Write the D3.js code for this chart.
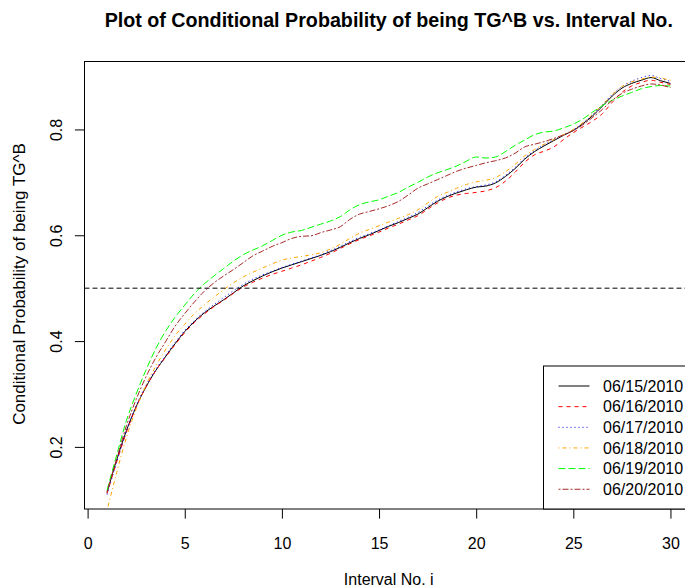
<!DOCTYPE html>
<html>
<head>
<meta charset="utf-8">
<script src="https://cdn.jsdelivr.net/npm/d3@7"></script>
<style>
  html, body { margin: 0; padding: 0; background: #fff; overflow: hidden; }
  svg { display: block; font-family: "Liberation Sans", Arial, sans-serif; }
</style>
</head>
<body>
<svg id="chart" width="685" height="588"></svg>
<script>
// Interval numbers (x) shared by every day's curve
const intervals = [1,1.5,2,2.5,3,3.5,4,4.5,5,5.5,6,6.5,7,7.5,8,8.5,9,9.5,10,10.5,
  11,11.5,12,12.5,13,13.5,14,14.5,15,15.5,16,16.5,17,17.5,18,18.5,19,19.5,20,20.5,
  21,21.5,22,22.5,23,23.5,24,24.5,25,25.5,26,26.5,27,27.5,28,28.5,29,29.5,30];

// Conditional probability of being TG^B, one array per trading day
const day0615 = [0.114,0.176,0.231,0.276,0.313,0.344,0.370,0.395,0.418,0.437,
  0.453,0.466,0.478,0.491,0.504,0.514,0.523,0.531,0.538,0.544,
  0.550,0.556,0.562,0.569,0.577,0.586,0.594,0.601,0.609,0.617,
  0.624,0.632,0.640,0.652,0.664,0.673,0.680,0.686,0.691,0.693,
  0.699,0.711,0.726,0.744,0.758,0.769,0.779,0.789,0.798,0.811,
  0.826,0.844,0.863,0.878,0.887,0.893,0.898,0.892,0.887];
const day0616 = [0.112,0.172,0.228,0.275,0.313,0.344,0.369,0.393,0.416,0.435,
  0.451,0.465,0.477,0.490,0.502,0.511,0.519,0.526,0.532,0.538,
  0.544,0.551,0.558,0.566,0.575,0.584,0.592,0.599,0.606,0.614,
  0.621,0.629,0.637,0.649,0.661,0.670,0.676,0.679,0.681,0.684,
  0.690,0.702,0.719,0.738,0.752,0.759,0.767,0.781,0.794,0.805,
  0.816,0.830,0.851,0.870,0.882,0.889,0.893,0.889,0.885];
const day0617 = [0.110,0.172,0.230,0.278,0.316,0.346,0.372,0.397,0.420,0.439,
  0.455,0.469,0.482,0.495,0.507,0.517,0.525,0.532,0.539,0.545,
  0.551,0.557,0.563,0.571,0.579,0.588,0.596,0.603,0.610,0.618,
  0.626,0.634,0.643,0.655,0.666,0.675,0.682,0.688,0.692,0.695,
  0.701,0.713,0.728,0.746,0.760,0.771,0.781,0.790,0.799,0.812,
  0.828,0.847,0.866,0.881,0.891,0.898,0.902,0.896,0.891];
const day0618 = [0.080,0.152,0.218,0.272,0.316,0.352,0.383,0.410,0.432,0.452,
  0.468,0.483,0.497,0.510,0.521,0.530,0.538,0.546,0.553,0.557,
  0.560,0.563,0.567,0.574,0.583,0.594,0.604,0.611,0.618,0.625,
  0.632,0.639,0.648,0.661,0.673,0.681,0.689,0.696,0.701,0.704,
  0.709,0.720,0.734,0.750,0.762,0.772,0.781,0.790,0.800,0.813,
  0.829,0.847,0.866,0.881,0.890,0.895,0.899,0.897,0.893];
const day0619 = [0.118,0.185,0.250,0.300,0.345,0.385,0.418,0.445,0.468,0.490,
  0.508,0.523,0.537,0.551,0.563,0.572,0.580,0.590,0.600,0.606,
  0.609,0.615,0.621,0.627,0.635,0.648,0.658,0.663,0.667,0.674,
  0.681,0.691,0.700,0.710,0.718,0.724,0.731,0.740,0.748,0.746,
  0.748,0.758,0.770,0.780,0.790,0.795,0.797,0.803,0.810,0.820,
  0.833,0.845,0.855,0.863,0.870,0.877,0.881,0.883,0.882];
const day0620 = [0.115,0.178,0.240,0.290,0.332,0.368,0.398,0.428,0.452,0.474,
  0.494,0.510,0.523,0.535,0.548,0.561,0.570,0.579,0.586,0.594,
  0.598,0.599,0.605,0.610,0.616,0.630,0.640,0.645,0.650,0.656,
  0.664,0.676,0.689,0.697,0.705,0.713,0.721,0.727,0.732,0.737,
  0.741,0.746,0.755,0.767,0.772,0.777,0.783,0.790,0.798,0.809,
  0.823,0.838,0.855,0.868,0.876,0.882,0.886,0.884,0.879];

const dayLabels = ["06/15/2010","06/16/2010","06/17/2010","06/18/2010","06/19/2010","06/20/2010"];
const dayValues = [day0615, day0616, day0617, day0618, day0619, day0620];
const dayColors = ["#000000","#ff0000","#0000ff","#ffa500","#00ff00","#a52a2a"];
const dayDashes = [null, "4,4", "1,3", "1,3,4,3", "7,3", "2,2,6,2"];

const xTicks = [0, 5, 10, 15, 20, 25, 30];
const yTicks = [0.2, 0.4, 0.6, 0.8];
const threshold = 0.5;

const svg = d3.select("#chart");
const plot = { left: 84.5, right: 693, top: 61, bottom: 509 };

// Axis limits padded by 4% around the first day's range, as base R does
function padded(ext) { const r = ext[1] - ext[0]; return [ext[0] - 0.04 * r, ext[1] + 0.04 * r]; }
const x = d3.scaleLinear().domain(padded(d3.extent(intervals))).range([plot.left, plot.right]);
const y = d3.scaleLinear().domain(padded(d3.extent(day0615))).range([plot.bottom, plot.top]);

svg.append("defs").append("clipPath").attr("id", "plotArea")
  .append("rect").attr("x", plot.left).attr("y", plot.top)
  .attr("width", plot.right - plot.left).attr("height", plot.bottom - plot.top);

// Title
svg.append("text").attr("x", (plot.left + plot.right) / 2).attr("y", 27)
  .attr("text-anchor", "middle").attr("font-weight", "bold").attr("font-size", 19.7)
  .attr("fill", "#000")
  .text("Plot of Conditional Probability of being TG^B vs. Interval No.");

// Bottom axis
const xAxis = svg.append("g").attr("transform", `translate(0,${plot.bottom})`)
  .call(d3.axisBottom(x).tickValues(xTicks).tickSize(9.6).tickPadding(0).tickFormat(d3.format("d")));
xAxis.select(".domain").remove();
xAxis.selectAll("line").attr("stroke", "#000");
xAxis.selectAll("text").attr("dy", null).attr("y", 39.5)
  .attr("font-size", 16).attr("font-family", "Liberation Sans, Arial, sans-serif").attr("fill", "#000");

// Left axis with labels turned parallel to the axis
const yAxis = svg.append("g").attr("transform", `translate(${plot.left},0)`)
  .call(d3.axisLeft(y).tickValues(yTicks).tickSize(9.6).tickFormat(d3.format(".1f")));
yAxis.select(".domain").remove();
yAxis.selectAll("line").attr("stroke", "#000");
yAxis.selectAll("text")
  .attr("x", null).attr("dy", null).attr("text-anchor", "middle")
  .attr("transform", "translate(-23,0) rotate(-90)")
  .attr("font-size", 16).attr("font-family", "Liberation Sans, Arial, sans-serif").attr("fill", "#000");

// Axis titles
svg.append("text").attr("x", (plot.left + plot.right) / 2).attr("y", 584.5)
  .attr("text-anchor", "middle").attr("font-size", 16).attr("fill", "#000")
  .text("Interval No. i");
svg.append("text")
  .attr("transform", `translate(24.5,${(plot.top + plot.bottom) / 2 - 1}) rotate(-90)`)
  .attr("text-anchor", "middle").attr("font-size", 17).attr("fill", "#000")
  .text("Conditional Probability of being TG^B");

// Curves
const lines = svg.append("g").attr("clip-path", "url(#plotArea)");
const lineGen = d3.line().x((d, i) => x(intervals[i])).y(d => y(d)).curve(d3.curveMonotoneX);
dayValues.forEach((vals, k) => {
  lines.append("path").datum(vals)
    .attr("d", lineGen).attr("fill", "none")
    .attr("stroke", dayColors[k]).attr("stroke-width", 1)
    .attr("stroke-dasharray", dayDashes[k]);
});

// Reference line at probability 0.5
lines.append("line")
  .attr("x1", plot.left).attr("x2", plot.right)
  .attr("y1", y(threshold)).attr("y2", y(threshold))
  .attr("stroke", "#000").attr("stroke-width", 1).attr("stroke-dasharray", "5,3");

// Plot frame
svg.append("rect").attr("x", plot.left).attr("y", plot.top + 0.5)
  .attr("width", plot.right - plot.left).attr("height", plot.bottom - plot.top - 0.5)
  .attr("fill", "none").attr("stroke", "#000").attr("stroke-width", 1);

// Legend in the bottom-right corner
const legend = svg.append("g");
const legendLeft = 543.5, legendTop = 366, rowGap = 20.65;
legend.append("rect").attr("x", legendLeft).attr("y", legendTop)
  .attr("width", plot.right - legendLeft).attr("height", plot.bottom - legendTop)
  .attr("fill", "#fff").attr("stroke", "#000").attr("stroke-width", 1);
dayLabels.forEach((lab, k) => {
  const cy = legendTop + 20 + k * rowGap;
  legend.append("line").attr("x1", legendLeft + 15).attr("x2", legendLeft + 46)
    .attr("y1", cy).attr("y2", cy)
    .attr("stroke", dayColors[k]).attr("stroke-width", 1).attr("stroke-dasharray", dayDashes[k]);
  legend.append("text").attr("x", legendLeft + 59.5).attr("y", cy + 5.7)
    .attr("font-size", 16).attr("fill", "#000").text(lab);
});
</script>
</body>
</html>
